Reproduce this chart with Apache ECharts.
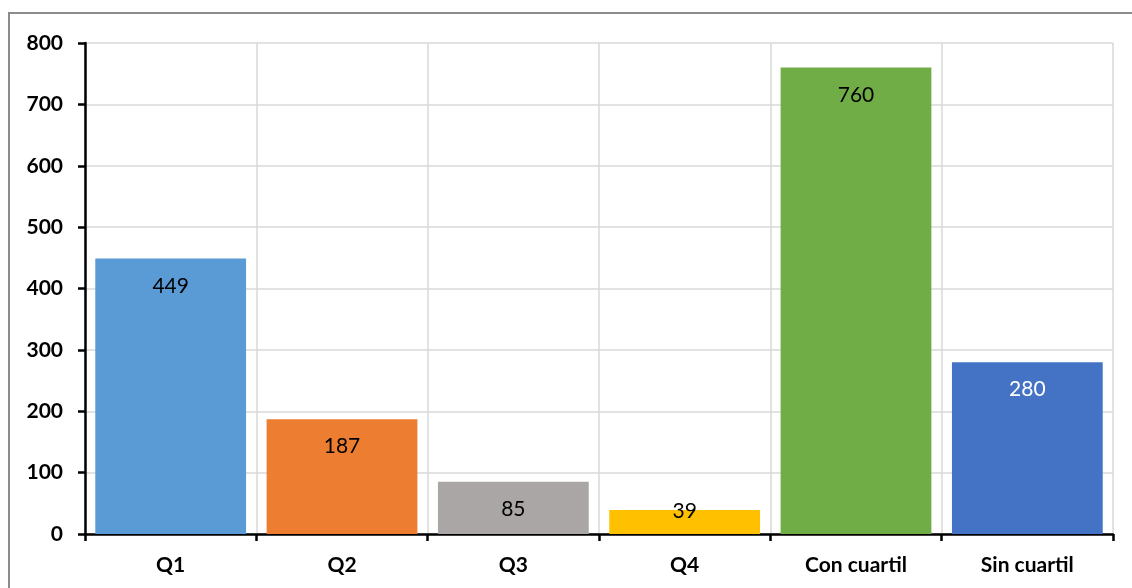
<!DOCTYPE html>
<html><head><meta charset="utf-8">
<script src="https://cdn.jsdelivr.net/npm/echarts@6/dist/echarts.min.js"></script>
<style>html,body{margin:0;padding:0;background:#fff}#c{width:1132px;height:588px}</style>
</head><body><div id="c"></div>
<script>
const categories = ['Q1', 'Q2', 'Q3', 'Q4', 'Con cuartil', 'Sin cuartil'];
const values = [449, 187, 85, 39, 760, 280];
const barColors = ['#5B9BD5', '#ED7D31', '#A9A6A5', '#FFC000', '#70AD47', '#4472C4'];
const labelColors = ['#000', '#000', '#000', '#000', '#000', '#fff'];
const yTicks = { min: 0, max: 800, interval: 100 };

const FONT = 'Lato, "Open Sans", sans-serif';
const chart = echarts.init(document.getElementById('c'));
chart.setOption({
  animation: false,
  graphic: [{ type: 'rect', shape: { x: 9, y: 13, width: 1200, height: 700 }, style: { fill: 'none', stroke: '#8c8c8c', lineWidth: 2 }, silent: true, z: -10 }],
  grid: { left: 85, right: 19, top: 43, bottom: 54 },
  xAxis: {
    type: 'category', data: categories,
    axisLine: { lineStyle: { color: '#000', width: 2.5 } },
    axisTick: { show: true, length: 7, lineStyle: { color: '#000', width: 2.5 } },
    axisLabel: { color: '#000', fontFamily: FONT, fontWeight: 'bold', fontSize: 21, margin: 21 },
    splitLine: { show: true, lineStyle: { color: '#D9D9D9', width: 1.5 } }
  },
  yAxis: {
    type: 'value', min: yTicks.min, max: yTicks.max, interval: yTicks.interval,
    axisLine: { show: true, lineStyle: { color: '#000', width: 2.5 } },
    axisTick: { show: true, length: 7, lineStyle: { color: '#000', width: 2.5 } },
    axisLabel: { color: '#000', fontFamily: FONT, fontWeight: 'bold', fontSize: 21, margin: 22 },
    splitLine: { show: true, lineStyle: { color: '#D9D9D9', width: 1.5 } }
  },
  series: [{
    type: 'bar', barCategoryGap: '12%',
    data: values.map((v, i) => {
      const item = { value: v, itemStyle: { color: barColors[i] }, label: { color: labelColors[i] } };
      if (v < 60) { item.label.position = 'top'; item.label.distance = 0; item.label.offset = [0, 12]; }
      return item;
    }),
    label: { show: true, position: 'insideTop', distance: 17, fontFamily: FONT, fontSize: 21 }
  }]
});
</script></body></html>
